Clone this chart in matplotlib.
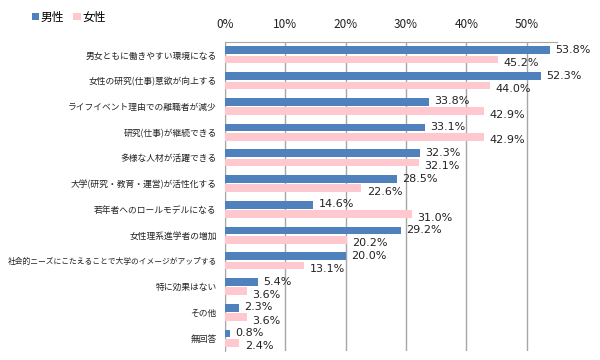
import matplotlib
matplotlib.use("Agg")
import matplotlib.pyplot as plt
import numpy as np

plt.rcParams['font.family'] = ['Noto Sans CJK JP', 'DejaVu Sans']

categories = ["男女ともに働きやすい環境になる", "女性の研究(仕事)意欲が向上する", "ライフイベント理由での離職者が減少",
              "研究(仕事)が継続できる", "多様な人材が活躍できる", "大学(研究・教育・運営)が活性化する",
              "若年者へのロールモデルになる", "女性理系進学者の増加",
              "社会的ニーズにこたえることで大学のイメージがアップする", "特に効果はない", "その他", "無回答"]
male = [53.8, 52.3, 33.8, 33.1, 32.3, 28.5, 14.6, 29.2, 20.0, 5.4, 2.3, 0.8]
female = [45.2, 44.0, 42.9, 42.9, 32.1, 22.6, 31.0, 20.2, 13.1, 3.6, 3.6, 2.4]
ticks = [0, 10, 20, 30, 40, 50]
series_names = ["男性", "女性"]

c_male = "#4F81BD"
c_female = "#FFC7CE"

fig = plt.figure(figsize=(6, 3.6), dpi=100)
ax = fig.add_axes([0.375, 0.025, 0.553, 0.858])

n = len(categories)
y = np.arange(n)
h = 0.3
off = 0.18
ax.barh(y - off, male, height=h, color=c_male, label=series_names[0], zorder=3)
ax.barh(y + off, female, height=h, color=c_female, label=series_names[1], zorder=3)

for i in range(n):
    ax.text(male[i] + 0.9, y[i] - off - 0.02, f"{male[i]:.1f}%", va="center", ha="left",
            fontsize=8, color="#222222", zorder=4, family="DejaVu Sans")
    ax.text(female[i] + 0.9, y[i] + off + 0.14, f"{female[i]:.1f}%", va="center", ha="left",
            fontsize=8, color="#222222", zorder=4, family="DejaVu Sans")

ax.set_xlim(0, 55)
ax.set_ylim(n - 0.5, -0.5)
ax.xaxis.tick_top()
ax.set_xticks(ticks)
ax.set_xticklabels([f"{t}%" for t in ticks], fontsize=8.5, color="#222222")
ax.tick_params(axis="x", length=0, pad=8)
ax.set_yticks(y)
labels = ax.set_yticklabels(categories, fontsize=6.3, color="#222222")
labels[8].set_fontsize(5.6)
ax.tick_params(axis="y", length=0, pad=6)
ax.grid(axis="x", color="#A6A6A6", linewidth=1, zorder=0)
for s in ["right", "bottom"]:
    ax.spines[s].set_visible(False)
for s in ["left", "top"]:
    ax.spines[s].set_color("#A6A6A6")

fig.legend(loc="upper left", bbox_to_anchor=(0.035, 1.0), ncol=2, frameon=False, fontsize=8.5,
           handlelength=0.6, handleheight=0.6, handletextpad=0.15, columnspacing=0.8)

fig.savefig("out.png", dpi=100)
